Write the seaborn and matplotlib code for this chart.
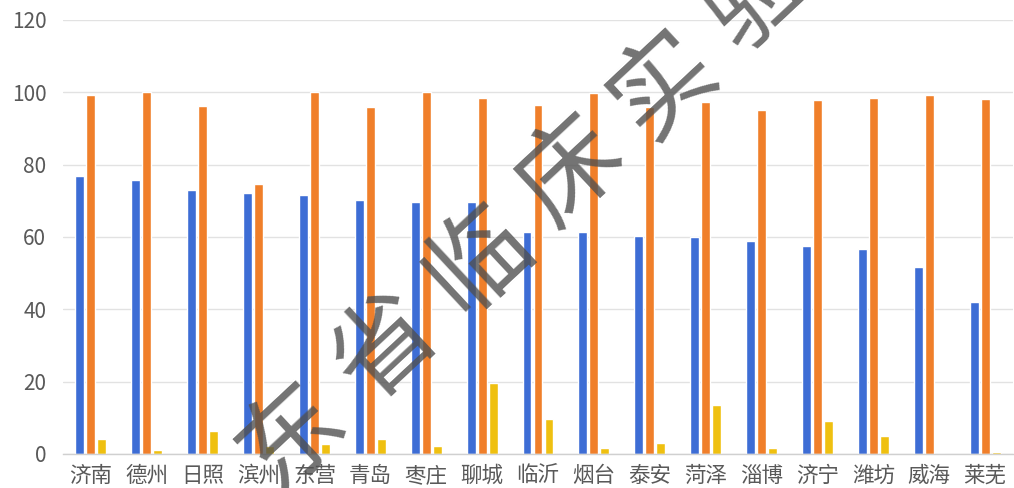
import matplotlib
matplotlib.use("Agg")
import matplotlib.pyplot as plt
import seaborn as sns
import pandas as pd
from matplotlib.ticker import FixedLocator

# City names along the x axis
cities = ["济南", "德州", "日照", "滨州", "东营", "青岛", "枣庄", "聊城", "临沂",
          "烟台", "泰安", "菏泽", "淄博", "济宁", "潍坊", "威海", "莱芜"]

# Three series per city
series_names = ["系列1", "系列2", "系列3"]
series_1 = [76.8, 75.7, 72.9, 72.3, 71.5, 70.1, 69.8, 69.6, 61.5,
            61.3, 60.4, 59.9, 59.0, 57.4, 56.8, 51.6, 41.9]
series_2 = [99.2, 100.0, 96.2, 74.6, 100.0, 95.9, 100.0, 98.4, 96.5,
            99.8, 95.9, 97.3, 95.1, 97.8, 98.3, 99.2, 98.1]
series_3 = [4.2, 1.1, 6.4, 2.3, 2.8, 4.2, 2.2, 19.7, 9.7,
            1.7, 3.0, 13.6, 1.7, 9.1, 5.0, 0.0, 0.5]

y_ticks = [0, 20, 40, 60, 80, 100, 120]
colors = ["#3d6dd5", "#f07f2a", "#efc010"]

watermark = "东省临床实验"

df = pd.DataFrame({
    "city": cities * 3,
    "series": [series_names[0]] * len(cities) + [series_names[1]] * len(cities)
              + [series_names[2]] * len(cities),
    "value": series_1 + series_2 + series_3,
})

sns.set_theme(style="white")
plt.rcParams["font.family"] = ["Noto Sans CJK SC", "DejaVu Sans"]

W, H = 1014, 488
fig = plt.figure(figsize=(W / 100, H / 100), dpi=100)
ax = fig.add_axes([63 / W, 34 / H, 950 / W, 434 / H])

sns.barplot(data=df, x="city", y="value", hue="series", order=cities,
            hue_order=series_names, palette=colors, width=0.59, gap=0.19,
            saturation=1, legend=False, ax=ax)

ax.set_xlim(-0.5, len(cities) - 0.5)
ax.set_ylim(0, 120)
ax.set_yticks(y_ticks)
ax.set_xlabel("")
ax.set_ylabel("")

ax.yaxis.grid(True, color="#e2e2e2", linewidth=1.0)
ax.set_axisbelow(True)
for side in ["top", "right", "left"]:
    ax.spines[side].set_visible(False)
ax.spines["bottom"].set_color("#d0d0d0")
ax.spines["bottom"].set_linewidth(1.0)

# category separators below the axis
ax.xaxis.set_minor_locator(FixedLocator([i + 0.5 for i in range(-1, len(cities))]))
ax.tick_params(axis="x", which="minor", length=24, width=1.0, color="#d6d6d6",
               direction="out")
ax.tick_params(axis="x", which="major", length=0, labelsize=15.5,
               labelcolor="#595959", pad=8)
ax.tick_params(axis="y", length=0, labelsize=15, labelcolor="#595959", pad=12)

# diagonal watermark, one glyph at a time along a 43-degree line
start_x, start_y = 292, 436      # pixel centre of the first glyph (from top-left)
step_x, step_y = 93, -88
for i, ch in enumerate(watermark):
    cx = start_x + i * step_x
    cy = start_y + i * step_y
    fig.text(cx / W, 1 - cy / H, ch, fontsize=74, color="#505050", alpha=0.8,
             rotation=43, rotation_mode="anchor", ha="center", va="center",
             fontweight="light", zorder=10)

fig.savefig("out.png", dpi=100)
